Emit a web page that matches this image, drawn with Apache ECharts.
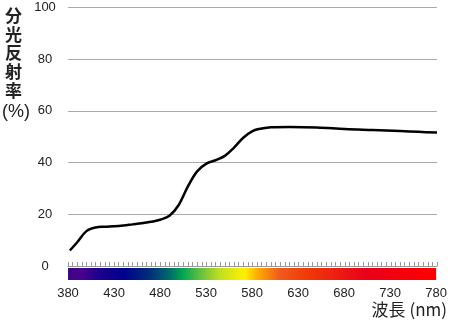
<!DOCTYPE html>
<html><head><meta charset="utf-8">
<script src="https://cdn.jsdelivr.net/npm/echarts@6/dist/echarts.min.js"></script>
<style>html,body{margin:0;padding:0;background:#fff}#c{width:450px;height:327px}</style>
</head><body><div id="c"></div>
<script>
var wavelengths = [382,390,400,410,420,430,440,450,460,470,480,490,500,510,520,530,540,550,560,570,580,590,600,620,650,680,710,740,760,780];
var reflectance = [6.0,9.2,13.5,14.9,15.2,15.4,15.7,16.1,16.5,17.1,17.9,19.4,23.6,30.8,36.6,39.6,40.9,42.6,45.8,49.6,52.2,53.2,53.7,53.8,53.6,53.0,52.6,52.2,51.9,51.6];
var xTicks = [380,430,480,530,580,630,680,730,780];
var yTicks = [0,20,40,60,80,100];
var spectrumNm = [380,395,410,440,470,490,505,525,545,572,585,610,640,705,780];
var spectrumColor = ['#3a0880','#4a0090','#22008c','#00008c','#00307a','#006a6a','#00a850','#6cc040','#c0e020','#fff000','#ffb000','#f05a1c','#f03a08','#e8001a','#ff0000'];

var chart = echarts.init(document.getElementById('c'));
var xMin = xTicks[0], xMax = xTicks[xTicks.length-1];
var stops = spectrumNm.map(function(w,i){return {offset:(w-xMin)/(xMax-xMin), color:spectrumColor[i]};});
var font = '"Liberation Sans", Arial, sans-serif';
chart.setOption({
  animation:false,
  grid:[{left:68,right:13,top:7.5,bottom:61},{left:68,right:13,top:268,height:12}],
  xAxis:[
    {gridIndex:0,type:'value',min:xMin,max:xMax,interval:5,
     axisLine:{show:true,lineStyle:{color:'#999',width:1}},
     axisTick:{show:true,inside:true,length:4,lineStyle:{color:'#999'}},
     axisLabel:{show:false},splitLine:{show:false}},
    {gridIndex:1,type:'value',min:xMin,max:xMax,interval:50,
     axisLine:{show:false},axisTick:{show:false},splitLine:{show:false},
     axisLabel:{margin:7,fontSize:13,color:'#222',fontFamily:font}}
  ],
  yAxis:[
    {gridIndex:0,type:'value',min:yTicks[0],max:yTicks[yTicks.length-1],interval:20,
     axisLine:{show:false},axisTick:{show:false},
     splitLine:{show:true,lineStyle:{color:'#aaa',width:1}},
     axisLabel:{margin:23,align:'center',fontSize:13,color:'#222',fontFamily:font}},
    {gridIndex:1,type:'value',min:0,max:1,show:false}
  ],
  graphic:[
    {type:'text',left:5,top:6,style:{text:'分\n光\n反\n射\n率',font:'bold 17px "Noto Sans CJK JP", sans-serif',lineHeight:18.8,fill:'#222'}},
    {type:'text',left:2,top:103,style:{text:'(%)',font:'18px '+font,fill:'#222'}},
    {type:'text',right:3,top:301,style:{text:'波長 (nm)',font:'17px "Noto Sans CJK JP", sans-serif',fill:'#222'}}
  ],
  series:[
    {type:'line',xAxisIndex:0,yAxisIndex:0,data:wavelengths.map(function(w,i){return [w,reflectance[i]];}),
     smooth:0.35,showSymbol:false,lineStyle:{color:'#000',width:2.5}},
    {type:'custom',xAxisIndex:1,yAxisIndex:1,data:[[xMin,xMax]],
     renderItem:function(params,api){
       var p0=api.coord([api.value(0),1]), p1=api.coord([api.value(1),0]);
       return {type:'rect',shape:{x:p0[0],y:p0[1],width:p1[0]-p0[0],height:p1[1]-p0[1]},
         style:{fill:new echarts.graphic.LinearGradient(0,0,1,0,stops)}};
     }}
  ]
});
</script></body></html>
